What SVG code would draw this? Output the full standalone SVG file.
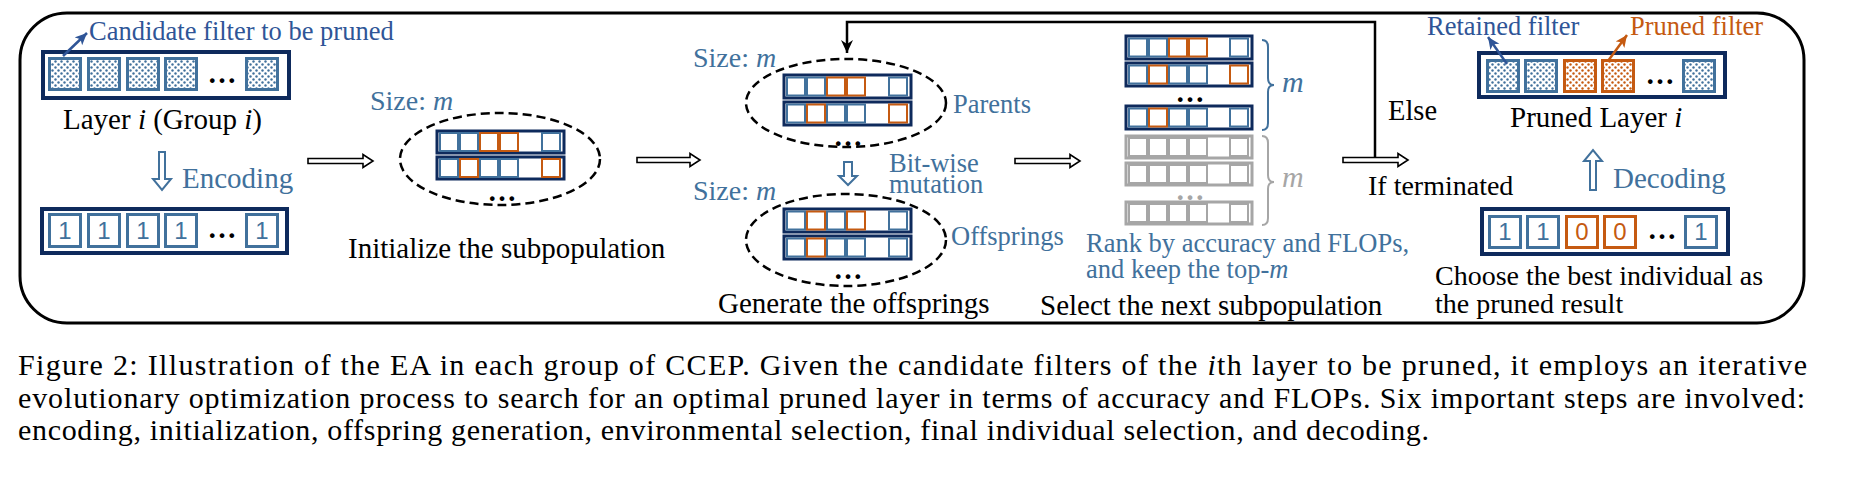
<svg xmlns="http://www.w3.org/2000/svg" width="1865" height="477" viewBox="0 0 1865 477">
<style>
text{font-family:"Liberation Serif","Times New Roman",serif}
.k{fill:#000;font-size:29px}
.bl{fill:#41719c;font-size:29px}
.bs{fill:#41719c;font-size:26.5px}
.dk{fill:#2f5597;font-size:26.5px}
.or{fill:#c55a11;font-size:26.5px}
.it{font-style:italic}
.cap{fill:#000;font-size:30px}
.dig{font-family:"Liberation Sans",Arial,sans-serif;font-size:24px;text-anchor:middle}
.dots{font-size:29px;font-weight:bold;text-anchor:middle;fill:#000}
.nvb{fill:#fff;stroke:#0e2a5c;stroke-width:4}
.nvs{fill:#fff;stroke:#0e2a5c;stroke-width:3}
.gys{fill:#fff;stroke:#a6a6a6;stroke-width:3}
.pb{fill:url(#dotB);stroke:#41719c;stroke-width:3}
.po{fill:url(#dotO);stroke:#c55a11;stroke-width:3}
.eb{fill:#fff;stroke:#41719c;stroke-width:3}
.eo{fill:#fff;stroke:#c55a11;stroke-width:3}
.qb{fill:#fff;stroke:#41719c;stroke-width:2}
.qo{fill:#fff;stroke:#c55a11;stroke-width:2}
.qg{fill:#fff;stroke:#a6a6a6;stroke-width:2}
.ell{fill:none;stroke:#000;stroke-width:2.5;stroke-dasharray:9 5}
.ha{fill:#fff;stroke:#000;stroke-width:1.6}
.hb{fill:#fff;stroke:#41719c;stroke-width:2}
</style>
<defs>
<pattern id="dotB" width="6" height="6" patternUnits="userSpaceOnUse">
<rect width="6" height="6" fill="#fff"/>
<circle cx="1.5" cy="1.5" r="1.2" fill="#41719c"/>
<circle cx="4.5" cy="4.5" r="1.2" fill="#41719c"/>
</pattern>
<pattern id="dotO" width="6" height="6" patternUnits="userSpaceOnUse">
<rect width="6" height="6" fill="#fff"/>
<circle cx="1.5" cy="1.5" r="1.2" fill="#c55a11"/>
<circle cx="4.5" cy="4.5" r="1.2" fill="#c55a11"/>
</pattern>
<marker id="mBk" markerUnits="userSpaceOnUse" markerWidth="14" markerHeight="14" refX="13" refY="6" orient="auto">
<path d="M0,0 L13,6 L0,12 L4,6 Z" fill="#000"/>
</marker>
<marker id="mBl" markerUnits="userSpaceOnUse" markerWidth="14" markerHeight="14" refX="12" refY="5.5" orient="auto">
<path d="M0,0 L12,5.5 L0,11 L3,5.5 Z" fill="#2f5597"/>
</marker>
<marker id="mOr" markerUnits="userSpaceOnUse" markerWidth="14" markerHeight="14" refX="12" refY="5.5" orient="auto">
<path d="M0,0 L12,5.5 L0,11 L3,5.5 Z" fill="#c55a11"/>
</marker>
</defs>
<rect width="1865" height="477" fill="#fff"/>
<rect x="20" y="13" width="1784" height="310" rx="47" ry="47" fill="none" stroke="#000" stroke-width="3"/>

<g id="layer-i">
<rect class="nvb" x="43" y="52" width="246" height="46"/>
<rect class="pb" x="49.5" y="58.5" width="31" height="31"/>
<rect class="pb" x="88.5" y="58.5" width="31" height="31"/>
<rect class="pb" x="127.5" y="58.5" width="31" height="31"/>
<rect class="pb" x="165.5" y="58.5" width="31" height="31"/>
<rect class="pb" x="246.5" y="58.5" width="31" height="31"/>
<text class="dots" x="222" y="83">…</text>
<text class="dk" x="89" y="40">Candidate filter to be pruned</text>
<text class="k" x="63" y="129">Layer <tspan class="it">i</tspan>  (Group <tspan class="it">i</tspan>)</text>
</g>

<g id="encoded">
<rect class="nvb" x="42" y="209" width="245" height="44"/>
<rect class="eb" x="49.5" y="214.5" width="31" height="32"/>
<rect class="eb" x="88.5" y="214.5" width="31" height="32"/>
<rect class="eb" x="127.5" y="214.5" width="31" height="32"/>
<rect class="eb" x="165.5" y="214.5" width="31" height="32"/>
<rect class="eb" x="246.5" y="214.5" width="31" height="32"/>
<text class="dig" fill="#41719c" x="65" y="239">1</text>
<text class="dig" fill="#41719c" x="104" y="239">1</text>
<text class="dig" fill="#41719c" x="143" y="239">1</text>
<text class="dig" fill="#41719c" x="181" y="239">1</text>
<text class="dig" fill="#41719c" x="262" y="239">1</text>
<text class="dots" x="222" y="238">…</text>
<text class="bl" x="182" y="188">Encoding</text>
</g>

<g id="init-pop">
<ellipse class="ell" cx="500" cy="159" rx="100" ry="46"/>
<rect class="nvs" x="437" y="131" width="127" height="22"/>
<rect class="qb" x="440" y="133" width="18" height="18"/>
<rect class="qb" x="460" y="133" width="18" height="18"/>
<rect class="qo" x="480" y="133" width="18" height="18"/>
<rect class="qo" x="500" y="133" width="18" height="18"/>
<rect class="qb" x="542" y="133" width="18" height="18"/>
<rect class="nvs" x="437" y="157" width="127" height="22"/>
<rect class="qb" x="440" y="159" width="18" height="18"/>
<rect class="qo" x="460" y="159" width="18" height="18"/>
<rect class="qb" x="480" y="159" width="18" height="18"/>
<rect class="qb" x="500" y="159" width="18" height="18"/>
<rect class="qo" x="542" y="159" width="18" height="18"/>
<text class="dots" x="502" y="201">…</text>
<text class="bl" x="370" y="110" style="font-size:28px">Size: <tspan class="it">m</tspan></text>
<text class="k" x="348" y="258">Initialize the subpopulation</text>
</g>

<g id="parents">
<ellipse class="ell" cx="846" cy="103" rx="100" ry="44"/>
<rect class="nvs" x="784" y="75" width="127" height="23"/>
<rect class="qb" x="787" y="77.5" width="18" height="18"/>
<rect class="qb" x="807" y="77.5" width="18" height="18"/>
<rect class="qo" x="827" y="77.5" width="18" height="18"/>
<rect class="qo" x="847" y="77.5" width="18" height="18"/>
<rect class="qb" x="889" y="77.5" width="18" height="18"/>
<rect class="nvs" x="784" y="102" width="127" height="23"/>
<rect class="qb" x="787" y="104.5" width="18" height="18"/>
<rect class="qo" x="807" y="104.5" width="18" height="18"/>
<rect class="qb" x="827" y="104.5" width="18" height="18"/>
<rect class="qb" x="847" y="104.5" width="18" height="18"/>
<rect class="qo" x="889" y="104.5" width="18" height="18"/>
<text class="dots" x="848" y="146">…</text>
<text class="bl" x="693" y="67" style="font-size:28px">Size: <tspan class="it">m</tspan></text>
<text class="bs" x="953" y="113">Parents</text>
</g>

<g id="offsprings">
<ellipse class="ell" cx="846" cy="240" rx="100" ry="46"/>
<rect class="nvs" x="784" y="209" width="127" height="23"/>
<rect class="qb" x="787" y="211.5" width="18" height="18"/>
<rect class="qo" x="807" y="211.5" width="18" height="18"/>
<rect class="qb" x="827" y="211.5" width="18" height="18"/>
<rect class="qo" x="847" y="211.5" width="18" height="18"/>
<rect class="qb" x="889" y="211.5" width="18" height="18"/>
<rect class="nvs" x="784" y="236" width="127" height="23"/>
<rect class="qb" x="787" y="238.5" width="18" height="18"/>
<rect class="qo" x="807" y="238.5" width="18" height="18"/>
<rect class="qb" x="827" y="238.5" width="18" height="18"/>
<rect class="qb" x="847" y="238.5" width="18" height="18"/>
<rect class="qb" x="889" y="238.5" width="18" height="18"/>
<text class="dots" x="848" y="279">…</text>
<text class="bl" x="693" y="200" style="font-size:28px">Size: <tspan class="it">m</tspan></text>
<text class="bs" x="951" y="245">Offsprings</text>
<text class="bs" x="889" y="172">Bit-wise</text>
<text class="bs" x="889" y="193">mutation</text>
<text class="k" x="718" y="313">Generate the offsprings</text>
</g>

<g id="selection">
<rect class="nvs" x="1126" y="36" width="126" height="23"/>
<rect class="qb" x="1129" y="38.5" width="18" height="18"/>
<rect class="qb" x="1149" y="38.5" width="18" height="18"/>
<rect class="qo" x="1169" y="38.5" width="18" height="18"/>
<rect class="qo" x="1189" y="38.5" width="18" height="18"/>
<rect class="qb" x="1230" y="38.5" width="18" height="18"/>
<rect class="nvs" x="1126" y="63" width="126" height="23"/>
<rect class="qb" x="1129" y="65.5" width="18" height="18"/>
<rect class="qo" x="1149" y="65.5" width="18" height="18"/>
<rect class="qb" x="1169" y="65.5" width="18" height="18"/>
<rect class="qb" x="1189" y="65.5" width="18" height="18"/>
<rect class="qo" x="1230" y="65.5" width="18" height="18"/>
<text class="dots" x="1190" y="102">…</text>
<rect class="nvs" x="1126" y="106" width="126" height="23"/>
<rect class="qb" x="1129" y="108.5" width="18" height="18"/>
<rect class="qo" x="1149" y="108.5" width="18" height="18"/>
<rect class="qb" x="1169" y="108.5" width="18" height="18"/>
<rect class="qb" x="1189" y="108.5" width="18" height="18"/>
<rect class="qb" x="1230" y="108.5" width="18" height="18"/>
<rect class="gys" x="1126" y="136" width="126" height="22"/>
<rect class="qg" x="1129" y="138" width="18" height="18"/>
<rect class="qg" x="1149" y="138" width="18" height="18"/>
<rect class="qg" x="1169" y="138" width="18" height="18"/>
<rect class="qg" x="1189" y="138" width="18" height="18"/>
<rect class="qg" x="1230" y="138" width="18" height="18"/>
<rect class="gys" x="1126" y="163" width="126" height="22"/>
<rect class="qg" x="1129" y="165" width="18" height="18"/>
<rect class="qg" x="1149" y="165" width="18" height="18"/>
<rect class="qg" x="1169" y="165" width="18" height="18"/>
<rect class="qg" x="1189" y="165" width="18" height="18"/>
<rect class="qg" x="1230" y="165" width="18" height="18"/>
<text class="dots" x="1190" y="200" style="fill:#a6a6a6">…</text>
<rect class="gys" x="1126" y="202" width="126" height="22"/>
<rect class="qg" x="1129" y="204" width="18" height="18"/>
<rect class="qg" x="1149" y="204" width="18" height="18"/>
<rect class="qg" x="1169" y="204" width="18" height="18"/>
<rect class="qg" x="1189" y="204" width="18" height="18"/>
<rect class="qg" x="1230" y="204" width="18" height="18"/>
<path d="M1262,40 Q1268,40 1268,47 L1268,78 Q1268,85 1274,85 Q1268,85 1268,92 L1268,123 Q1268,130 1262,130" fill="none" stroke="#41719c" stroke-width="2"/>
<path d="M1262,136 Q1268,136 1268,143 L1268,175 Q1268,182 1274,182 Q1268,182 1268,189 L1268,218 Q1268,225 1262,225" fill="none" stroke="#a6a6a6" stroke-width="2"/>
<text class="it" x="1282" y="92" style="fill:#41719c;font-size:30px">m</text>
<text class="it" x="1282" y="187" style="fill:#a6a6a6;font-size:30px">m</text>
<text class="bs" x="1086" y="252">Rank by accuracy and FLOPs,</text>
<text class="bs" x="1086" y="278">and keep the top-<tspan class="it">m</tspan></text>
<text class="k" x="1040" y="315">Select the next subpopulation</text>
</g>

<g id="pruned-layer">
<rect class="nvb" x="1479" y="53" width="246" height="44"/>
<rect class="pb" x="1487.5" y="60.5" width="31" height="31"/>
<rect class="pb" x="1525.5" y="60.5" width="31" height="31"/>
<rect class="po" x="1564.5" y="60.5" width="31" height="31"/>
<rect class="po" x="1602.5" y="60.5" width="31" height="31"/>
<rect class="pb" x="1683.5" y="60.5" width="31" height="31"/>
<text class="dots" x="1660" y="84">…</text>
<text class="dk" x="1427" y="35">Retained filter</text>
<text class="or" x="1630" y="35">Pruned filter</text>
<text class="k" x="1510" y="127">Pruned Layer <tspan class="it">i</tspan></text>
</g>

<g id="best-individual">
<rect class="nvb" x="1482" y="209" width="246" height="45"/>
<rect class="eb" x="1489.5" y="216.5" width="31" height="31"/>
<rect class="eb" x="1527.5" y="216.5" width="31" height="31"/>
<rect class="eo" x="1566.5" y="216.5" width="31" height="31"/>
<rect class="eo" x="1604.5" y="216.5" width="31" height="31"/>
<rect class="eb" x="1685.5" y="216.5" width="31" height="31"/>
<text class="dig" fill="#41719c" x="1505" y="240">1</text>
<text class="dig" fill="#41719c" x="1543" y="240">1</text>
<text class="dig" fill="#c55a11" x="1582" y="240">0</text>
<text class="dig" fill="#c55a11" x="1620" y="240">0</text>
<text class="dig" fill="#41719c" x="1701" y="240">1</text>
<text class="dots" x="1662" y="239">…</text>
<text class="bl" x="1613" y="188">Decoding</text>
<text class="k" x="1435" y="285" style="font-size:28px">Choose the best individual as</text>
<text class="k" x="1435" y="313" style="font-size:28px">the pruned result</text>
</g>

<g id="connectors">
<path class="ha" d="M308,158.5 H363 V154.5 L373,161 L363,167.5 V163.5 H308 Z"/>
<path class="ha" d="M637,157.5 H690 V153.5 L700,160 L690,166.5 V162.5 H637 Z"/>
<path class="ha" d="M1015,158.5 H1070 V154.5 L1080,161 L1070,167.5 V163.5 H1015 Z"/>
<path class="ha" d="M1343,157.5 H1398 V153.5 L1408,160 L1398,166.5 V162.5 H1343 Z"/>
<path class="hb" d="M159,152 V179 H153 L162,190 L171,179 H165 V152 Z"/>
<path class="hb" d="M1590,190 V161 H1584 L1593,150 L1602,161 H1596 V190 Z"/>
<path class="hb" d="M844,162 V176 H839 L848,185 L857,176 H852 V162 Z"/>
<polyline points="1375,157 1375,22 847,22 847,53" fill="none" stroke="#000" stroke-width="2.5" marker-end="url(#mBk)"/>
<line x1="63" y1="56" x2="87" y2="33" stroke="#2f5597" stroke-width="2.5" marker-end="url(#mBl)"/>
<line x1="1507" y1="64" x2="1488" y2="37" stroke="#2f5597" stroke-width="2.5" marker-end="url(#mBl)"/>
<line x1="1608" y1="61" x2="1627" y2="35" stroke="#c55a11" stroke-width="2.5" marker-end="url(#mOr)"/>
<text class="k" x="1388" y="120" style="font-size:28.5px">Else</text>
<text class="k" x="1368" y="195" style="font-size:28px">If terminated</text>
</g>

<g id="caption">
<text class="cap" x="18" y="375" textLength="1789" lengthAdjust="spacing">Figure 2:  Illustration of the EA in each group of CCEP. Given the candidate filters of the <tspan class="it">i</tspan>th layer to be pruned, it employs an iterative</text>
<text class="cap" x="18" y="408" textLength="1787" lengthAdjust="spacing">evolutionary optimization process to search for an optimal pruned layer in terms of accuracy and FLOPs.  Six important steps are involved:</text>
<text class="cap" x="18" y="440" textLength="1411" lengthAdjust="spacing">encoding, initialization, offspring generation, environmental selection, final individual selection, and decoding.</text>
</g>
</svg>
